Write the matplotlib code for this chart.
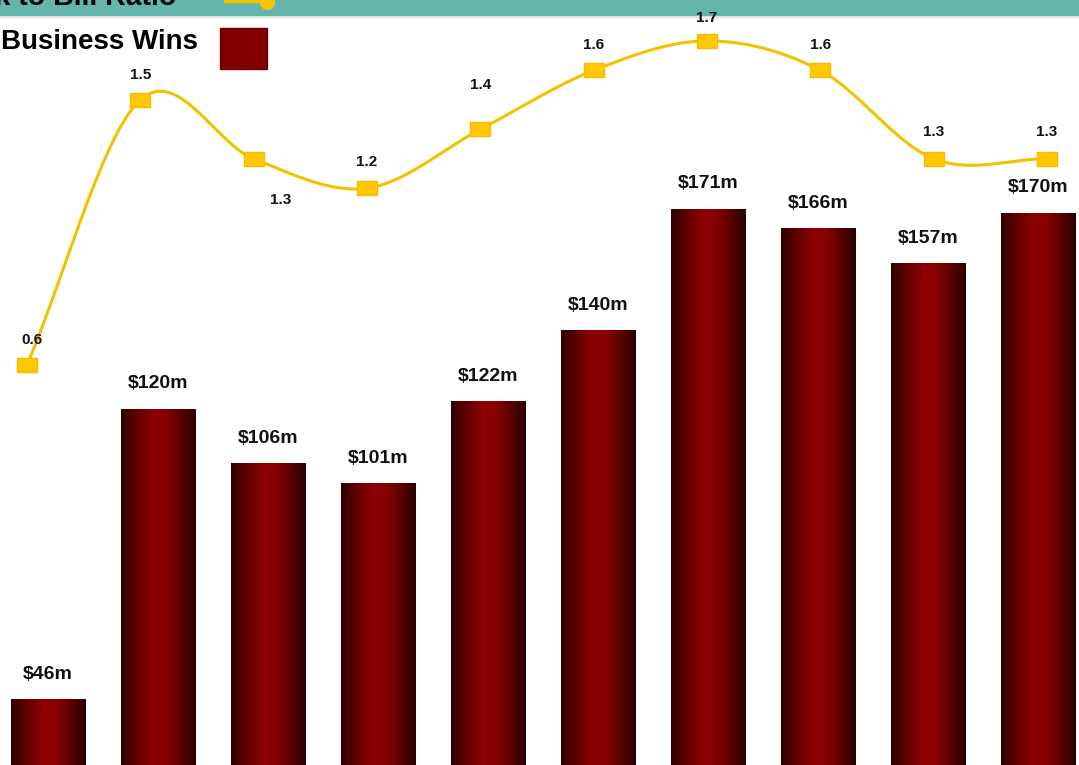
import numpy as np
import matplotlib
matplotlib.use("Agg")
import matplotlib.pyplot as plt
from matplotlib.colors import LinearSegmentedColormap
from matplotlib.patches import Rectangle
from matplotlib.lines import Line2D

plt.rcParams['font.family'] = ['Liberation Sans', 'DejaVu Sans']

# Business wins ($m) per period and book-to-bill ratio
wins = [46, 120, 106, 101, 122, 140, 171, 166, 157, 170]
win_labels = ["$46m", "$120m", "$106m", "$101m", "$122m",
              "$140m", "$171m", "$166m", "$157m", "$170m"]
ratio = [0.6, 1.5, 1.3, 1.2, 1.4, 1.6, 1.7, 1.6, 1.3, 1.3]
ratio_labels = ["0.6", "1.5", "1.3", "1.2", "1.4", "1.6", "1.7", "1.6", "1.3", "1.3"]

W, H = 1079, 765
fig = plt.figure(figsize=(W / 100, H / 100), dpi=100)
fig.patch.set_facecolor("white")

# ---- bars -------------------------------------------------------------
ax = fig.add_axes([0, 0, 1, 1])
ax.axis("off")

x = np.arange(len(wins))
bars = ax.bar(x, wins, width=0.673, color="#7a0000", zorder=2)

grad_cmap = LinearSegmentedColormap.from_list(
    "barshade", [(0.0, "#2e0000"), (0.18, "#5a0000"), (0.42, "#8c0000"),
                 (0.6, "#880000"), (0.82, "#560000"), (1.0, "#280000")])
grad = np.linspace(0, 1, 256).reshape(1, -1)
for b in bars:
    x0, w, h = b.get_x(), b.get_width(), b.get_height()
    im = ax.imshow(grad, cmap=grad_cmap, aspect="auto",
                   extent=(x0, x0 + w, 0, h), zorder=3)
    im.set_clip_path(b)
    b.set_edgecolor("none")

for xi, v, lab in zip(x, wins, win_labels):
    ax.text(xi, v + 6.3, lab, ha="center", va="center",
            fontsize=14, fontweight="bold", color="#111111", zorder=5)

ax.set_xlim(-0.436, 9.373)
ax.set_ylim(29.1, 224.2)

# ---- ratio line ---------------------------------------------------------
ax2 = fig.add_axes([0, 0, 1, 1], facecolor="none")
ax2.set_xlim(-0.238, 9.282)
ax2.set_ylim(-0.758, 1.839)
ax2.axis("off")

# header band (drawn in the overlay axes so point labels can sit above it)
band_h = 16 / H
ax2.add_patch(Rectangle((0, 1 - band_h), 1, band_h, transform=ax2.transAxes,
                        facecolor="#63b5ae", edgecolor="none", zorder=4))
for k, a in enumerate([0.35, 0.22, 0.12, 0.05]):
    ax2.add_patch(Rectangle((0, 1 - band_h - (k + 1) / H), 1, 1 / H,
                            transform=ax2.transAxes, facecolor="#9aa7a5",
                            alpha=a, edgecolor="none", zorder=4))

# Catmull-Rom curve through the ratio points
px = np.arange(len(ratio), dtype=float)
py = np.array(ratio, dtype=float)
P = np.column_stack([px, py])
P = np.vstack([P[0] - (P[1] - P[0]), P, P[-1] + (P[-1] - P[-2])])
cx, cy = [], []
t = np.linspace(0, 1, 40)
for i in range(1, len(P) - 2):
    p0, p1, p2, p3 = P[i - 1], P[i], P[i + 1], P[i + 2]
    tt = t[:, None]
    seg = 0.5 * ((2 * p1) + (-p0 + p2) * tt + (2 * p0 - 5 * p1 + 4 * p2 - p3) * tt ** 2
                 + (-p0 + 3 * p1 - 3 * p2 + p3) * tt ** 3)
    cx.extend(seg[:, 0]); cy.extend(seg[:, 1])
ax2.plot(cx, cy, color="#f2c200", lw=2.2, zorder=6, solid_capstyle="round")

rect_marker = [(-1, -0.72), (1, -0.72), (1, 0.72), (-1, 0.72), (-1, -0.72)]
ax2.plot(px, py, ls="none", marker=rect_marker, markersize=14,
         color="#ffc800", markeredgecolor="#f5bd00", zorder=7)

offsets = [(5, 0.085), (0, 0.085), (27, -0.14), (0, 0.09), (0, 0.15),
           (0, 0.085), (0, 0.078), (0, 0.085), (0, 0.09), (0, 0.09)]
for xi, v, lab, (dxp, dy) in zip(px, py, ratio_labels, offsets):
    ax2.text(xi + dxp / 113.3, v + dy, lab, ha="center", va="center",
             fontsize=11, fontweight="bold", color="#111111", zorder=8)

# ---- legend ----------------------------------------------------------------
fig.text(176 / W, 1 + 2 / H, "Book to Bill Ratio", ha="right", va="center",
         fontsize=20.5, fontweight="bold", color="black", zorder=11)
fig.lines.append(Line2D([225 / W, 266 / W], [1 - 0.5 / H, 1 - 0.5 / H],
                        transform=fig.transFigure, color="#f2c200", lw=2.5, zorder=11))
fig.lines.append(Line2D([267 / W], [1 - 2 / H], transform=fig.transFigure,
                        marker="o", markersize=10, color="#f5c400", zorder=11))

fig.text(198 / W, 1 - 42 / H, "Business Wins", ha="right", va="center",
         fontsize=20, fontweight="bold", color="black", zorder=11)
fig.patches.append(Rectangle((220 / W, 1 - 69 / H), 47 / W, 41 / H,
                             transform=fig.transFigure, facecolor="#800000",
                             edgecolor="#6a0000", zorder=11))

fig.savefig("out.png", dpi=100)
